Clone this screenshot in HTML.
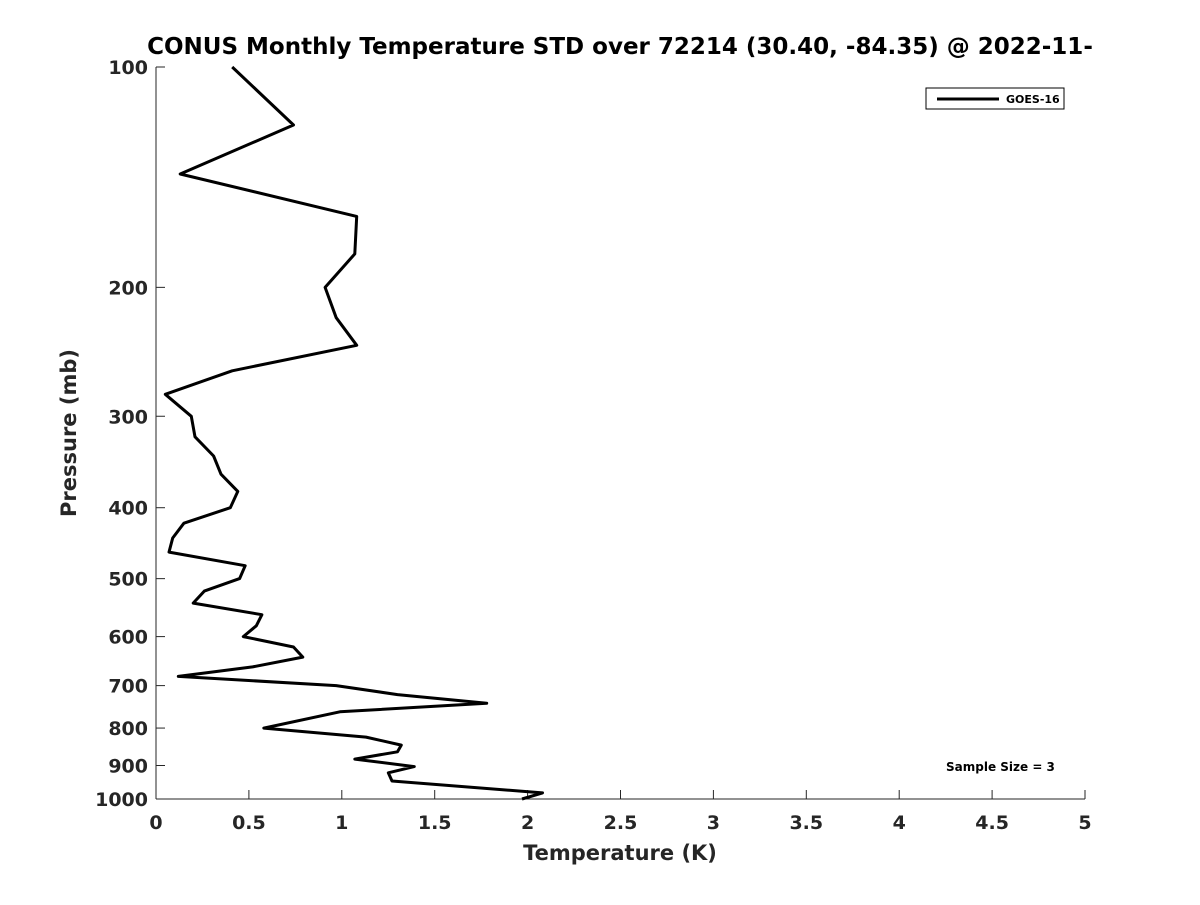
<!DOCTYPE html>
<html><head><meta charset="utf-8"><style>
body{margin:0;background:#fff;}
svg text{font-family:"DejaVu Sans","Liberation Sans",sans-serif;font-weight:bold;fill:#262626;}
</style></head><body>
<svg id="chart" width="1200" height="900" xmlns="http://www.w3.org/2000/svg">
<rect width="1200" height="900" fill="#fff"/>
<text x="620" y="54" font-size="23" text-anchor="middle" style="fill:#000">CONUS Monthly Temperature STD over 72214 (30.40, -84.35) @ 2022-11-</text>
<g id="axes"></g>
<path id="series" fill="none" stroke="#000" stroke-width="3" stroke-linejoin="round"/>
<g>
<rect x="926" y="88" width="138" height="21" fill="#fff" stroke="#000" stroke-width="1"/>
<line x1="937" y1="99" x2="999" y2="99" stroke="#000" stroke-width="3"/>
<text x="1006" y="103" font-size="11" style="fill:#000">GOES-16</text>
</g>
<text x="946" y="771" font-size="12" style="fill:#000">Sample Size = 3</text>
<text x="620" y="860" font-size="21" text-anchor="middle">Temperature (K)</text>
<text transform="translate(76,433) rotate(-90)" font-size="21" text-anchor="middle">Pressure (mb)</text>
</svg>
<script>
const temps = [0.41,0.74,0.13,1.08,1.07,0.91,0.97,1.08,0.41,0.05,0.19,0.21,0.31,0.35,0.44,0.40,0.15,0.09,0.07,0.48,0.45,0.26,0.20,0.57,0.54,0.47,0.74,0.79,0.52,0.12,0.97,1.30,1.78,0.99,0.58,1.13,1.32,1.30,1.07,1.39,1.25,1.27,2.08,1.97];
const pressures = [100,120,140,160,180,200,220,240,260,280,300,320,340,360,380,400,420,440,460,480,500,520,540,560,580,600,620,640,660,680,700,720,740,760,800,823,844,862,882,903,921,945,981,1000];
const xTicks = [0,0.5,1,1.5,2,2.5,3,3.5,4,4.5,5];
const yTicks = [100,200,300,400,500,600,700,800,900,1000];
const X0=156,X1=1085,Y0=67,Y1=799;
function xs(v){return X0+(v-0)/(5-0)*(X1-X0);}
function ys(p){return Y0+(Math.log10(p)-2)*(Y1-Y0);}
const NS="http://www.w3.org/2000/svg";
const axes=document.getElementById('axes');
function mk(tag,attrs){const e=document.createElementNS(NS,tag);for(const k in attrs)e.setAttribute(k,attrs[k]);return e;}
let l=mk('line',{x1:X0,y1:Y0,x2:X0,y2:Y1,stroke:'#262626','stroke-width':1});


axes.appendChild(l);
l=mk('line',{x1:X0,y1:Y1,x2:X1,y2:Y1,stroke:'#262626','stroke-width':1});


axes.appendChild(l);
xTicks.forEach(v=>{
  const x=xs(v);
  const t=mk('line',{x1:x,y1:Y1,x2:x,y2:Y1-9,stroke:'#262626','stroke-width':1});
  
  
  axes.appendChild(t);
  const tx=mk('text',{x:x,y:Y1+30,'font-size':19,'text-anchor':'middle'});
  
  
  tx.textContent=String(v);
  axes.appendChild(tx);
});
yTicks.forEach(v=>{
  const y=ys(v);
  const t=mk('line',{x1:X0,y1:y,x2:X0+9,y2:y,stroke:'#262626','stroke-width':1});
  
  
  axes.appendChild(t);
  const tx=mk('text',{x:X0-8,y:y+7,'font-size':19,'text-anchor':'end'});
  
  
  tx.textContent=String(v);
  axes.appendChild(tx);
});
document.getElementById('series').setAttribute('d',temps.map((t,i)=>(i?'L':'M')+xs(t).toFixed(1)+','+ys(pressures[i]).toFixed(1)).join(' '));
</script>
</body></html>
